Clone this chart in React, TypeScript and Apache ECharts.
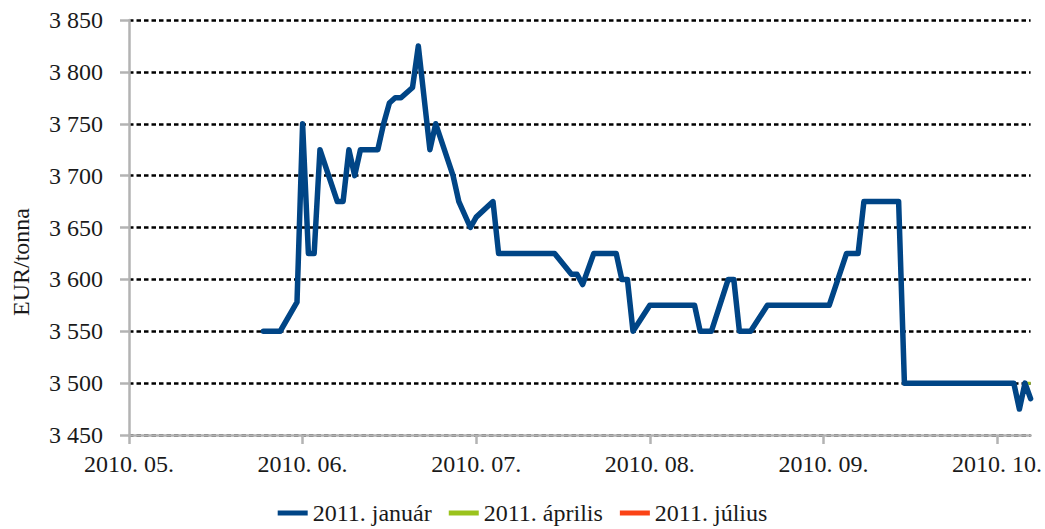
import React, { useEffect, useRef } from "react";
import * as echarts from "echarts";

const monthLabels = ["2010. 05.", "2010. 06.", "2010. 07.", "2010. 08.", "2010. 09.", "2010. 10."];
const yTicks = [3450, 3500, 3550, 3600, 3650, 3700, 3750, 3800, 3850];

const janDates = [
  "2010-05-25", "2010-05-28", "2010-05-31", "2010-06-01", "2010-06-02", "2010-06-03", "2010-06-04",
  "2010-06-07", "2010-06-08", "2010-06-09", "2010-06-10", "2010-06-11", "2010-06-14", "2010-06-15",
  "2010-06-16", "2010-06-17", "2010-06-18", "2010-06-20", "2010-06-21", "2010-06-23", "2010-06-24",
  "2010-06-27", "2010-06-28", "2010-06-30", "2010-07-01", "2010-07-04", "2010-07-05", "2010-07-15",
  "2010-07-18", "2010-07-19", "2010-07-20", "2010-07-22", "2010-07-26", "2010-07-27", "2010-07-28",
  "2010-07-29", "2010-08-01", "2010-08-09", "2010-08-10", "2010-08-12", "2010-08-15", "2010-08-16",
  "2010-08-17", "2010-08-19", "2010-08-22", "2010-09-02", "2010-09-05", "2010-09-07", "2010-09-08",
  "2010-09-14", "2010-09-15", "2010-10-04", "2010-10-05", "2010-10-06", "2010-10-07",
];
const janValues = [
  3550, 3550, 3578, 3750, 3625, 3625, 3725,
  3675, 3675, 3725, 3700, 3725, 3725, 3750,
  3770, 3775, 3775, 3785, 3825, 3725, 3750,
  3700, 3675, 3650, 3660, 3675, 3625, 3625,
  3605, 3605, 3595, 3625, 3625, 3600, 3600,
  3550, 3575, 3575, 3550, 3550, 3600, 3600,
  3550, 3550, 3575, 3575, 3625, 3625, 3675,
  3675, 3500, 3500, 3475, 3500, 3485,
];

const aprDates = ["2010-10-06", "2010-10-07"];
const aprValues = [3500, 3500];

const julDates: string[] = [];
const julValues: number[] = [];

const AXIS_MIN_DATE = "2010-05-01";
const AXIS_MAX_DATE = "2010-10-07";

function monthPos(dateStr: string): number {
  const [y, m, d] = dateStr.split("-").map(Number);
  const days = new Date(y, m, 0).getDate();
  return (m - 5) + (d - 1) / days;
}

function pairs(dates: string[], values: number[]) {
  return dates.map((d, i) => [monthPos(d), values[i]]);
}

const FONT = "Liberation Serif";
const TXT = "#1a1a1a";
const FS = 24;

export default function App() {
  const ref = useRef<HTMLDivElement>(null);
  useEffect(() => {
    if (!ref.current) return;
    const chart = echarts.init(ref.current, undefined, { renderer: "svg" });
    const ticksX = monthLabels.map((_, i) => i);
    chart.setOption({
      animation: false,
      backgroundColor: "#ffffff",
      textStyle: { fontFamily: FONT },
      grid: { left: 129, right: 14, top: 20, bottom: 94, containLabel: false },
      xAxis: {
        type: "value",
        min: monthPos(AXIS_MIN_DATE),
        max: monthPos(AXIS_MAX_DATE),
        interval: 1,
        axisLine: { show: true, lineStyle: { color: "#b3b3b3", width: 2.5 } },
        axisTick: { show: true, length: 9, customValues: ticksX, lineStyle: { color: "#b3b3b3", width: 2.5 } },
        axisLabel: {
          customValues: ticksX,
          formatter: (v: number) => monthLabels[Math.round(v)] ?? "",
          color: TXT,
          fontSize: FS,
          fontFamily: FONT,
          margin: 17,
        },
        splitLine: { show: false },
      },
      yAxis: {
        type: "value",
        min: yTicks[0],
        max: yTicks[yTicks.length - 1],
        interval: 50,
        axisLine: { show: true, lineStyle: { color: "#b3b3b3", width: 2.5 } },
        axisTick: { show: true, length: 9, lineStyle: { color: "#b3b3b3", width: 2.5 } },
        axisLabel: {
          formatter: (v: number) => String(v).replace(/\B(?=(\d{3})+(?!\d))/g, " "),
          color: TXT,
          fontSize: FS,
          fontFamily: FONT,
          margin: 26,
        },
        splitLine: {
          show: true,
          lineStyle: { color: "#000000", width: 2.6, type: [4.5, 3] },
        },
      },
      legend: {
        left: "center",
        top: 496,
        itemWidth: 30,
        itemHeight: 5,
        itemGap: 17,
        textStyle: { fontSize: FS, fontFamily: FONT, color: TXT },
        data: [
          { name: "2011. január", icon: "rect" },
          { name: "2011. április", icon: "rect" },
          { name: "2011. július", icon: "rect" },
        ],
      },
      graphic: [
        {
          type: "text",
          x: 21,
          y: 262,
          rotation: Math.PI / 2,
          style: {
            text: "EUR/tonna",
            fontSize: FS,
            fontFamily: FONT,
            fill: TXT,
            align: "center",
            verticalAlign: "middle",
          },
        },
      ],
      series: [
        {
          name: "2011. április",
          type: "line",
          data: pairs(aprDates, aprValues),
          showSymbol: false,
          symbol: "none",
          color: "#9bc31d",
          lineStyle: { width: 3, color: "#9bc31d" },
          z: 2,
        },
        {
          name: "2011. július",
          type: "line",
          data: pairs(julDates, julValues),
          showSymbol: false,
          symbol: "none",
          color: "#fb4316",
          lineStyle: { width: 3, color: "#fb4316" },
          z: 2,
        },
        {
          name: "2011. január",
          type: "line",
          data: pairs(janDates, janValues),
          showSymbol: false,
          symbol: "none",
          color: "#004586",
          lineStyle: { width: 5.5, color: "#004586", join: "round", cap: "round" },
          z: 3,
        },
      ],
    });
    return () => chart.dispose();
  }, []);
  return (
    <div
      ref={ref}
      style={{ position: "fixed", left: 0, top: 0, width: 1045, height: 529 }}
    />
  );
}
